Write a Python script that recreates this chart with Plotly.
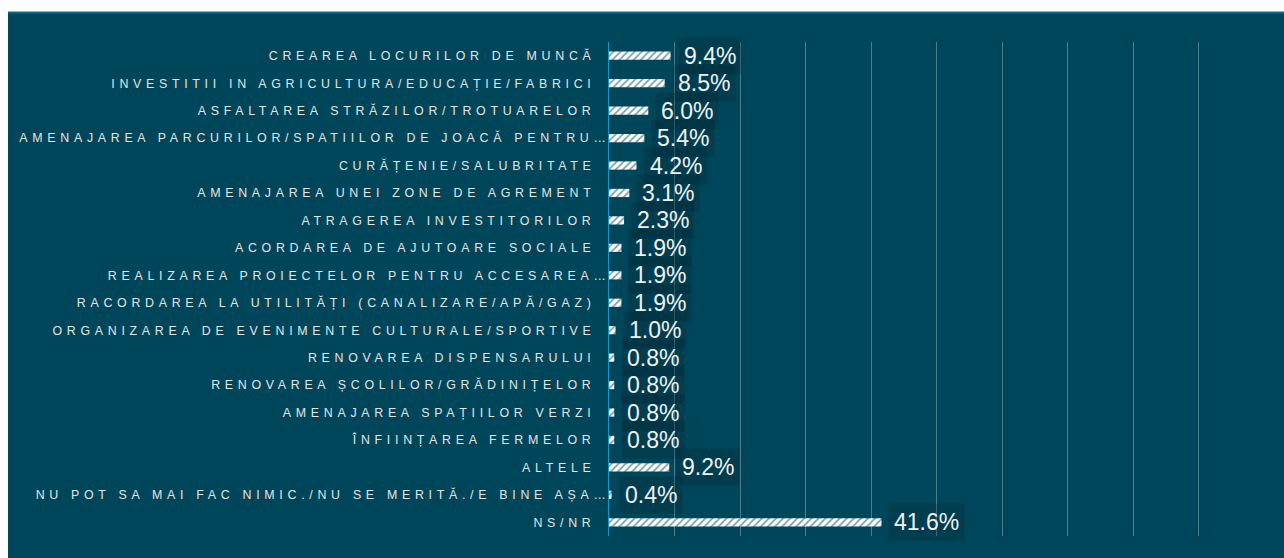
import plotly.graph_objects as go

categories = [
    "CREAREA LOCURILOR DE MUNCĂ",
    "INVESTITII IN AGRICULTURA/EDUCAȚIE/FABRICI",
    "ASFALTAREA STRĂZILOR/TROTUARELOR",
    "AMENAJAREA PARCURILOR/SPATIILOR DE JOACĂ PENTRU…",
    "CURĂȚENIE/SALUBRITATE",
    "AMENAJAREA UNEI ZONE DE AGREMENT",
    "ATRAGEREA INVESTITORILOR",
    "ACORDAREA DE AJUTOARE SOCIALE",
    "REALIZAREA PROIECTELOR PENTRU ACCESAREA…",
    "RACORDAREA LA UTILITĂȚI (CANALIZARE/APĂ/GAZ)",
    "ORGANIZAREA DE EVENIMENTE CULTURALE/SPORTIVE",
    "RENOVAREA DISPENSARULUI",
    "RENOVAREA ȘCOLILOR/GRĂDINIȚELOR",
    "AMENAJAREA SPAȚIILOR VERZI",
    "ÎNFIINȚAREA FERMELOR",
    "ALTELE",
    "NU POT SA MAI FAC NIMIC./NU SE MERITĂ./E BINE AȘA…",
    "NS/NR",
]
values = [9.4, 8.5, 6.0, 5.4, 4.2, 3.1, 2.3, 1.9, 1.9, 1.9, 1.0, 0.8, 0.8, 0.8, 0.8, 9.2, 0.4, 41.6]
x_ticks = [0, 10, 20, 30, 40, 50, 60, 70, 80, 90, 100]

BG = "#00465a"
FONT = "Arial, 'Liberation Sans', sans-serif"

fig = go.Figure()
fig.add_trace(go.Bar(
    x=values, y=categories, orientation="h", width=0.3,
    marker=dict(color="white", line=dict(width=0),
                pattern=dict(shape="/", fgcolor=BG, bgcolor="white", size=5, solidity=0.35)),
    hoverinfo="skip",
))

for c, v in zip(categories, values):
    fig.add_annotation(
        x=v, y=c, xref="x", yref="y", text=f"{v:.1f}%", showarrow=False,
        xanchor="left", xshift=7, font=dict(family=FONT, size=23, color="#f2f2f2"),
        bgcolor="rgba(0,25,35,0.2)", borderpad=5,
    )

# plot area in pixels: x 609..1264, y 42..536 ; panel starts at x=8, y=12
fig.add_shape(type="rect", xref="paper", yref="paper", x0=-0.9176, x1=1.05, y0=-0.06, y1=1.0607,
              fillcolor=BG, line=dict(width=0), layer="below")
fig.add_shape(type="line", xref="paper", yref="paper", x0=-0.9176, x1=1.05, y0=1.0597, y1=1.0597,
              line=dict(color="#0b6b8c", width=2), layer="below")

fig.update_layout(
    width=1284, height=558,
    margin=dict(l=609, r=20, t=42, b=22),
    paper_bgcolor="white", plot_bgcolor="rgba(0,0,0,0)",
    showlegend=False, bargap=0.7,
    xaxis=dict(range=[0, 100], tickvals=x_ticks, showticklabels=False, showgrid=True,
               gridcolor="rgba(255,255,255,0.3)", gridwidth=1, zeroline=False, showline=False,
               automargin=False),
    yaxis=dict(range=[len(categories) - 0.5, -0.5], autorange=False, automargin=False,
               showgrid=False, showline=True, linecolor="#1f93c4", linewidth=1,
               ticks="outside", ticklen=10, tickcolor="rgba(0,0,0,0)",
               tickfont=dict(family=FONT, size=12.4, color="#e4e4e4")),
)

post = ("var s=document.createElement('style');"
        "s.innerHTML='body{margin:0 !important;overflow:hidden;} .ytick text{letter-spacing:4.7px !important;}';"
        "document.head.appendChild(s);"
        "var gd=document.getElementById('{plot_id}');"
        "gd.querySelectorAll('.ytick text').forEach(function(t){"
        "if(t.textContent.slice(-1)==='\\u2026'){t.setAttribute('dx','15');}});")
fig.write_html("out.html", post_script=post, config={"displayModeBar": False})
